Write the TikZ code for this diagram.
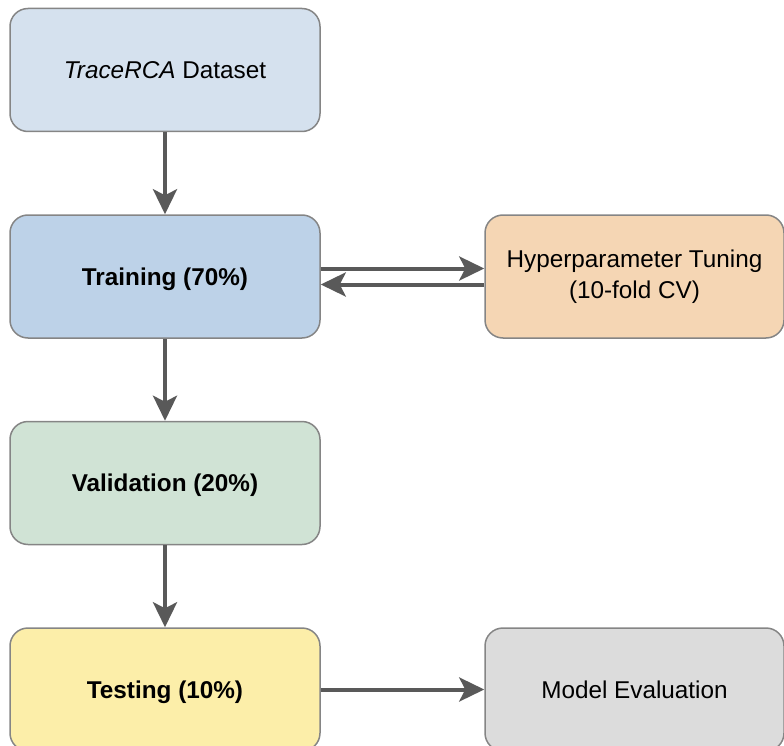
\documentclass[tikz,border=0pt]{standalone}
\usepackage{fontspec}
\setmainfont{Liberation Sans}
\usetikzlibrary{arrows.meta}
\definecolor{cData}{HTML}{D5E1EE}
\definecolor{cTrain}{HTML}{BDD2E8}
\definecolor{cVal}{HTML}{D0E3D5}
\definecolor{cHyper}{HTML}{F5D6B4}
\definecolor{cTest}{HTML}{FCEEA9}
\definecolor{cModel}{HTML}{DCDCDC}
\definecolor{cBorder}{HTML}{858585}
\definecolor{cArrow}{HTML}{595959}
\tikzset{
  box/.style={draw=cBorder, line width=1.5pt, rounded corners=18pt,
    minimum width=310pt, minimum height=123pt, inner sep=0pt, align=center,
    font=\fontsize{24.3}{31}\selectfont, text=black},
  oneline/.style={text height=22pt, text depth=5pt},
  rbox/.style={box, minimum width=299pt},
  flow/.style={draw=cArrow, line width=4pt, -{Stealth[length=25pt,width=24pt,inset=6pt]}},
}
\begin{document}
\begin{tikzpicture}[x=1pt,y=-1pt]
\useasboundingbox (0,0) rectangle (784,746);
\node[box, oneline, fill=cData]  (data)  at (165,70)  {\textit{TraceRCA} Dataset};
\node[box, oneline, fill=cTrain] (train) at (165,276.5) {\textbf{Training (70\%)}};
\node[box, oneline, fill=cVal]   (val)   at (165,483)   {\textbf{Validation (20\%)}};
\node[box, oneline, fill=cTest]  (test)  at (165,689.5) {\textbf{Testing (10\%)}};
\node[rbox, fill=cHyper] (hyper) at (634.5,276.5) {Hyperparameter Tuning\\(10-fold CV)};
\node[rbox, oneline, fill=cModel] (model) at (634.5,689.5) {Model Evaluation};
\draw[flow] (data.south) -- (train.north);
\draw[flow] (train.south) -- (val.north);
\draw[flow] (val.south) -- (test.north);
\draw[flow] ([yshift=8pt]train.east) -- ([yshift=8pt]hyper.west);
\draw[flow] ([yshift=-8pt]hyper.west) -- ([yshift=-8pt]train.east);
\draw[flow] (test.east) -- (model.west);
\end{tikzpicture}
\end{document}
